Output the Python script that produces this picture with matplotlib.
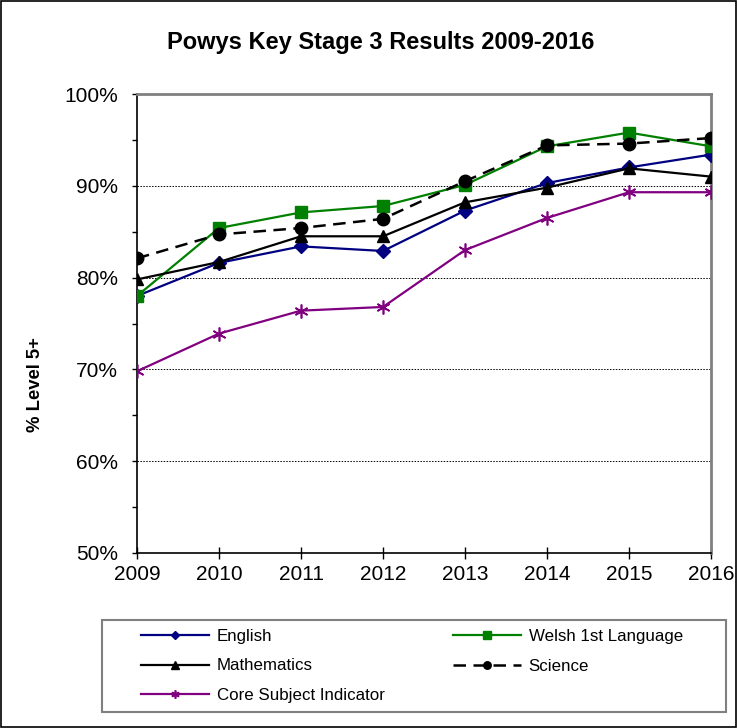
import matplotlib.pyplot as plt
from matplotlib.patches import Rectangle

plt.rcParams['font.family'] = ['Liberation Sans', 'DejaVu Sans']

anios = ["2009", "2010", "2011", "2012", "2013", "2014", "2015", "2016"]
english = [78.0, 81.6, 83.4, 82.9, 87.3, 90.3, 92.0, 93.4]
welsh = [78.0, 85.4, 87.1, 87.8, 90.1, 94.3, 95.8, 94.3]
maths = [79.8, 81.7, 84.5, 84.5, 88.2, 89.8, 91.9, 91.0]
science = [82.1, 84.7, 85.4, 86.4, 90.5, 94.4, 94.6, 95.2]
csi = [69.8, 73.9, 76.4, 76.8, 83.0, 86.5, 89.3, 89.3]
yticks = [50, 60, 70, 80, 90, 100]
yminor = [55, 65, 75, 85, 95]

fig = plt.figure(figsize=(7.37, 7.28), dpi=100)
ax = fig.add_axes([137/737, 1-553/728, 574/737, 459/728])
x = list(range(len(anios)))

# series
l1, = ax.plot(x, english, color="#000080", marker="D", markersize=7, lw=1.6, label="English", zorder=3)
l2, = ax.plot(x, welsh, color="#008000", marker="s", markersize=9, lw=1.6, label="Welsh 1st Language", zorder=3)
l3, = ax.plot(x, maths, color="black", marker="^", markersize=9, lw=1.6, label="Mathematics", zorder=3)
l4, = ax.plot(x, science, color="black", marker="o", markersize=9, lw=1.8, dashes=(5, 3), label="Science", zorder=3)
l5, = ax.plot(x, csi, color="#800080", marker=(6, 2, 0), markersize=10, mew=1.2, lw=1.6, label="Core Subject Indicator", zorder=3)

ax.set_xlim(0, len(anios)-1)
ax.set_ylim(50, 100)
ax.set_xticks(x)
ax.set_xticklabels(anios, fontsize=15)
ax.set_yticks(yticks)
ax.set_yticks(yminor, minor=True)
ax.set_yticklabels([f"{v}%" for v in yticks], fontsize=15)
ax.tick_params(axis="y", which="both", direction="out", length=3.6, width=1, pad=10)
ax.tick_params(axis="x", direction="inout", length=8.6, width=1, pad=4)

# rejilla
for v in yticks[1:-1]:
    ax.axhline(v, color="black", lw=0.7, ls=(0, (1.5, 1.5)), zorder=1)

for s in ["top", "right"]:
    ax.spines[s].set_color("#808080")
    ax.spines[s].set_linewidth(2)
for s in ["left", "bottom"]:
    ax.spines[s].set_color("black")
    ax.spines[s].set_linewidth(1.2)

fig.text(381/737, 1-43/728, "Powys Key Stage 3 Results 2009-2016", ha="center", va="center",
         fontsize=17, fontweight="bold")
fig.text(35/737, 1-385/728, "% Level 5+", ha="center", va="center", rotation=90,
         fontsize=13.3, fontweight="bold")

# leyenda: marco y dos columnas
fig.patches.append(Rectangle((102/737, 1-712/728), 624/737, 92/728, transform=fig.transFigure,
                             fill=False, edgecolor="#808080", lw=1.5))
opts = dict(fontsize=12.2, frameon=False, handlelength=4.0, handletextpad=0.47,
            markerscale=0.6, labelspacing=0.85, borderpad=0, borderaxespad=0, loc="center left")
leg1 = fig.legend(handles=[l1, l3, l5], bbox_to_anchor=(141/737, 1-666/728), **opts)
leg2 = fig.legend(handles=[l2, l4], bbox_to_anchor=(453/737, 1-651.5/728), **opts)

fig.patches.append(Rectangle((0.002, 0.002), 0.996, 0.996, transform=fig.transFigure,
                             fill=False, edgecolor="black", lw=1.2))

fig.savefig("out.png", dpi=100)
